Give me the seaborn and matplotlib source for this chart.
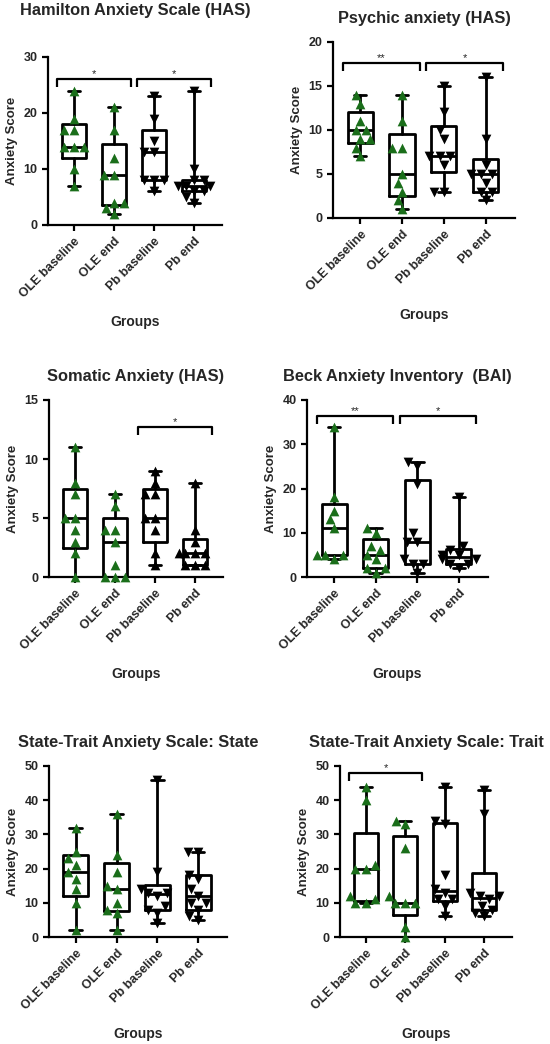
import numpy as np
import pandas as pd
import matplotlib
matplotlib.use("Agg")
import matplotlib.pyplot as plt
import seaborn as sns

sns.set_style("white")
plt.rcParams["font.family"] = ["Liberation Sans", "DejaVu Sans"]
plt.rcParams["font.weight"] = "bold"

groups = ["OLE baseline", "OLE end", "Pb baseline", "Pb end"]

# scores, one list per group (OLE base, OLE end, Pb base, Pb end)
has_total = [[24, 19, 17, 17, 14, 14, 14, 10, 7],
             [21, 17, 12, 9, 9, 4, 4, 3, 2],
             [23, 19, 15, 13, 13, 8, 8, 8, 6],
             [24, 10, 8, 8, 7, 7, 7, 6, 6, 5, 4]]
has_psychic = [[14, 13, 11, 10, 10, 9, 9, 8, 7],
               [14, 11, 8, 8, 5, 4, 3, 2, 1],
               [15, 12, 10, 9, 7, 7, 7, 6, 3, 3],
               [16, 9, 6, 5, 5, 5, 4, 3, 3, 2]]
has_somatic = [[11, 8, 7, 5, 5, 4, 3, 2, 0],
               [7, 6, 4, 4, 3, 1, 0, 0, 0],
               [9, 8, 7, 7, 5, 5, 4, 2, 1],
               [8, 4, 3, 2, 2, 2, 2, 1, 1, 1]]
bai = [[34, 18, 15, 13, 11, 5, 5, 5, 4],
       [11, 10, 7, 6, 5, 4, 2, 2, 1],
       [26, 25, 21, 10, 8, 8, 4, 3, 3, 1],
       [18, 7, 6, 5, 5, 4, 4, 3, 3, 2]]
stai_state = [[32, 25, 23, 21, 19, 17, 14, 10, 2],
              [36, 24, 19, 15, 14, 10, 8, 7, 2],
              [46, 19, 14, 13, 13, 12, 9, 8, 7, 4],
              [25, 25, 18, 17, 14, 12, 10, 10, 8, 6, 5]]
stai_trait = [[44, 40, 21, 20, 20, 12, 11, 10, 10],
              [34, 33, 26, 12, 10, 10, 10, 3, 0],
              [44, 34, 33, 18, 14, 13, 11, 11, 9, 6],
              [43, 36, 13, 12, 12, 11, 9, 8, 7, 6]]

titles = ["Hamilton Anxiety Scale (HAS)", "Psychic anxiety (HAS)",
          "Somatic Anxiety (HAS)", "Beck Anxiety Inventory  (BAI)",
          "State-Trait Anxiety Scale: State", "State-Trait Anxiety Scale: Trait"]
panel_data = [has_total, has_psychic, has_somatic, bai, stai_state, stai_trait]
y_max = [30, 20, 15, 40, 50, 50]
y_step = [10, 5, 5, 10, 10, 10]
# significance brackets: (first group, second group, label, height)
brackets = [[(0, 1, "*", 26), (2, 3, "*", 26)],
            [(0, 1, "**", 17.6), (2, 3, "*", 17.6)],
            [(2, 3, "*", 12.7)],
            [(0, 1, "**", 36.4), (2, 3, "*", 36.4)],
            [],
            [(0, 1, "*", 48)]]
pb_marker = ["v", "v", "^", "v", "v", "v"]

# axes boxes in pixels: left, right, top, bottom
W, H = 550, 1044
rects = [(48, 222, 57, 225), (333, 515, 42, 218),
         (49, 223, 400, 577), (307, 488, 400, 577),
         (49, 227, 766, 937), (340, 512, 766, 937)]
title_pad = [30, 14, 14, 14, 14, 14]

green = "#1a6e1a"


def box_stats(vals):
    # min-to-max whiskers, quartiles with the (n+1)p rule used by Prism
    q1, med, q3 = np.percentile(vals, [25, 50, 75], method="weibull")
    return {"med": med, "q1": q1, "q3": q3, "whislo": min(vals),
            "whishi": max(vals), "fliers": []}


fig = plt.figure(figsize=(W / 100, H / 100), dpi=100)

for k in range(6):
    l, r, t, b = rects[k]
    ax = fig.add_axes([l / W, 1 - b / H, (r - l) / W, (b - t) / H])

    rows = []
    for g, vals in zip(groups, panel_data[k]):
        for v in vals:
            rows.append({"group": g, "score": v})
    df = pd.DataFrame(rows)

    for i, g in enumerate(groups):
        sub = df[df["group"] == g]
        col = green if i < 2 else "black"
        mk = "^" if i < 2 else pb_marker[k]
        sns.swarmplot(data=sub, x="group", y="score", order=groups, color=col,
                      marker=mk, size=7, linewidth=0, ax=ax, zorder=3)

    line = dict(color="black", linewidth=2)
    ax.bxp([box_stats(v) for v in panel_data[k]], positions=range(4),
           widths=0.6, showfliers=False, manage_ticks=False,
           boxprops=line, whiskerprops=line, capprops=line,
           medianprops=line)

    for coll in ax.collections:
        coll.set_clip_on(False)

    tick_len = y_max[k] * 0.045
    for i, j, lab, yb in brackets[k]:
        x0, x1 = i - 0.42, j + 0.42
        ax.plot([x0, x0, x1, x1], [yb - tick_len, yb, yb, yb - tick_len],
                color="black", lw=1.6, solid_capstyle="butt", clip_on=False)
        ax.text((x0 + x1) / 2, yb, lab, ha="center", va="bottom",
                fontsize=8, fontweight="normal")

    ax.set_xlim(-0.65, 3.7)
    ax.set_ylim(0, y_max[k])
    ax.set_yticks(range(0, y_max[k] + 1, y_step[k]))
    sns.despine(ax=ax)
    for s in ["left", "bottom"]:
        ax.spines[s].set_linewidth(1.6)
        ax.spines[s].set_color("black")
    ax.tick_params(axis="both", direction="out", length=4, width=1.6,
                   color="black", labelsize=9, left=True, bottom=True)
    ax.set_xticks(range(4))
    ax.set_xticklabels(groups, rotation=45, ha="right", rotation_mode="anchor",
                       fontsize=9, fontweight="bold")
    for lab in ax.get_yticklabels():
        lab.set_fontweight("bold")
    ax.set_ylabel("Anxiety Score", fontsize=9.5, fontweight="bold")
    ax.set_xlabel("Groups", fontsize=10, fontweight="bold", labelpad=11)
    ax.set_title(titles[k], fontsize=11.8, fontweight="bold", pad=title_pad[k])

fig.savefig("out.png", dpi=100)
